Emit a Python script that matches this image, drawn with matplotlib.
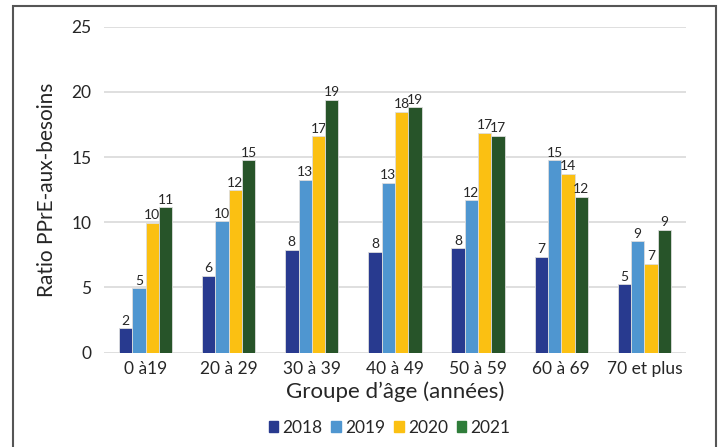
import numpy as np
import matplotlib.pyplot as plt
from matplotlib.patches import Patch, Rectangle

plt.rcParams['font.family'] = ['Lato', 'DejaVu Sans']

# Données : ratio PPrE-aux-besoins par groupe d'âge
groupes = ['0 à19', '20 à 29', '30 à 39', '40 à 49', '50 à 59', '60 à 69', '70 et plus']
annees = ['2018', '2019', '2020', '2021']
r2018 = [1.87, 5.9, 7.9, 7.75, 8.0, 7.34, 5.24]
r2019 = [4.93, 10.07, 13.24, 13.01, 11.7, 14.75, 8.54]
r2020 = [9.97, 12.47, 16.6, 18.46, 16.85, 13.7, 6.8]
r2021 = [11.15, 14.75, 19.38, 18.81, 16.62, 11.94, 9.41]

couleurs = ['#283a8f', '#4f96d0', '#fbc012', '#275429']
couleurs_legende = ['#283a8f', '#4f96d0', '#fbc012', '#2f7d3a']
gris_texte = '#262626'

fig = plt.figure(figsize=(7.19, 4.47), dpi=100)
ax = fig.add_axes([0.1446, 0.211, 0.8094, 0.7293])

x = np.arange(len(groupes))
largeur = 0.16
series = [r2018, r2019, r2020, r2021]
for i, (valeurs, c) in enumerate(zip(series, couleurs)):
    pos = x + (i - 1.5) * largeur
    barres = ax.bar(pos, valeurs, largeur, color=c, edgecolor='#dddddd',
                    linewidth=0.6, zorder=3)
    for b, v in zip(barres, valeurs):
        ax.text(b.get_x() + b.get_width() / 2, v + 0.12, f'{v:.0f}',
                ha='center', va='bottom', fontsize=10, color=gris_texte)

ax.set_xlim(-0.5, len(groupes) - 0.5)
ax.set_ylim(0, 25)
ax.set_yticks(range(0, 26, 5))
ax.set_xticks(x)
ax.set_xticklabels(groupes)
ax.tick_params(length=0, labelsize=12.5, colors=gris_texte, pad=6)
ax.tick_params(axis='y', pad=9)
ax.grid(axis='y', color='#d9d9d9', linewidth=1.2, zorder=0)
for s in ax.spines.values():
    s.set_visible(False)

ax.set_ylabel('Ratio PPrE-aux-besoins', fontsize=15, color=gris_texte, labelpad=10)
ax.set_xlabel('Groupe d\u2019âge (années)', fontsize=16, color=gris_texte, labelpad=3)

poignees = [Patch(color=c) for c in couleurs_legende]
fig.legend(poignees, annees, loc='center', bbox_to_anchor=(0.542, 0.043), ncol=4,
           frameon=False, fontsize=12.5, handlelength=0.55, handleheight=0.55,
           handletextpad=0.25, columnspacing=0.5, labelcolor=gris_texte)

# cadre autour de la figure
fig.patches.append(Rectangle((0.018, -0.05), 0.978, 1.0366, transform=fig.transFigure,
                             fill=False, edgecolor='#555555', linewidth=1.5))

fig.savefig('out.png', dpi=100)
